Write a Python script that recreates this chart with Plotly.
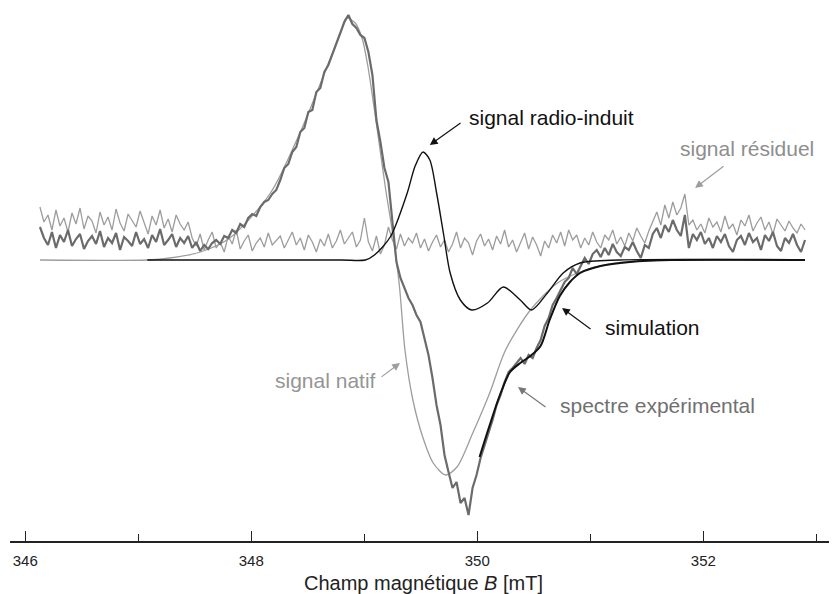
import numpy as np
import plotly.graph_objects as go

# ---------------- data (field in mT, signal amplitude in arbitrary units) -------------
# experimental spectrum (noisy), sampled evenly over the field sweep
B_start, B_stop = 346.13, 352.90
exp_A = [
    33, 22, 15, 28, 12, 25, 18, 30, 14, 21, 26, 11, 19, 24, 16, 29, 13, 22, 17, 27,
    10, 23, 19, 14, 28, 16, 21, 12, 25, 18, 31, 15, 20, 26, 13, 22, 17, 24,
    12, 18, 9, 15, 11, 17,
    20, 16, 24, 22, 30, 27, 36, 33, 42, 46, 44, 53, 58, 60, 66, 70,
    80, 92, 96, 108, 113, 128, 132, 148, 150, 168, 172, 188, 195, 206, 215, 228, 238,
    245, 236, 232, 225, 222, 208, 185, 140, 118, 92, 78, 38, -2, -18, -28, -38, -45,
    -55, -62, -78, -95, -118, -145, -165, -195,
    -212, -228, -222, -243, -238, -255, -228, -215, -198, -186, -172, -160, -145, -135,
    -122, -112, -108, -103, -98, -104, -95, -98, -88, -80,
    -66, -58, -45, -38, -30, -22, -18, -8, -14, -6, 2, -4, 6, 10, 3, 12, 5, 16, 8, 4,
    13, 10, 18, 9, 2, 15,
    12, 26, 32, 22, 35, 28, 40, 30, 24, 45, 12, 26, 20, 28, 16, 22, 12, 24, 18, 26,
    14, 8, 20, 24, 15, 27, 18, 22, 10, 25, 19, 28, 14, 9, 22, 17, 26, 15, 8, 20,
]

# residual signal (experimental - simulation), same sampling
res_A = [
    53, 38, 45, 30, 50, 34, 42, 28, 47, 36, 52, 31, 44, 39, 27, 48, 35, 43, 30, 51,
    37, 29, 46, 40, 33, 49, 38, 26, 44, 35, 50, 32, 41, 28, 45, 36, 30, 38,
    22, 14, 26, 10, 20, 28, 12, 18, 8, 24, 16, 30, 11, 19, 25, 9, 17, 22, 13, 27, 15, 20,
    24, 12, 20, 28, 15, 22, 10, 25, 18, 8, 21, 14, 26, 12, 19, 30, 16, 22, 28, 13,
    20, 42, 18, 9, 24, 6, 15, 33, 20, 11, 26, 14, 22, 17, 27, 12, 21, 9, 18, 25,
    13, 20, 8, 16, 28, 12, 22, 17, 5, 19, 26, 14, 21, 10, 24, 16, 30, 13, 20, 8,
    18, 27, 11, 23, 15, 4, 19, 12, 25, 17, 28, 14, 30, 20, 25, 12,
    22, 15, 28, 18, 12, 25, 20, 30, 16, 23, 14, 27, 19, 32, 24, 17, 29,
    38, 48, 35, 55, 42, 58, 45, 52, 66, 35,
    40, 30, 36, 27, 42, 33, 38, 28, 44, 31, 36, 25, 40, 34, 45, 29, 37, 43, 30, 38,
    26, 41, 35, 29, 39, 32, 27, 36, 30,
]

# native signal (smooth)
nat_B = [346.13, 347.08, 347.28, 347.55, 347.81, 348.17, 348.43, 348.67, 348.79, 348.84,
         348.92, 348.98, 349.03, 349.09, 349.14, 349.19, 349.25, 349.31, 349.36, 349.43,
         349.52, 349.61, 349.72, 349.82, 349.96, 350.11, 350.25, 350.47, 350.71, 350.91,
         351.17, 351.44, 351.97, 352.90]
nat_A = [0, 0, 2, 8, 22, 67, 127, 193, 227, 242,
         237, 222, 195, 150, 110, 70, 27, -25, -90, -140,
         -178, -203, -215, -207, -173, -133, -90, -50, -23, -12,
         -4, -1, 0, 0]

# radiation-induced signal (smooth)
rad_B = [347.08, 348.79, 349.01, 349.09, 349.23, 349.38, 349.45, 349.52, 349.58, 349.64,
         349.70, 349.76, 349.85, 349.95, 350.09, 350.23, 350.38, 350.48, 350.62, 350.76,
         350.91, 351.26, 352.90]
rad_A = [0, 0, 0, 5, 23, 67, 94, 108, 100, 67,
         27, -13, -40, -50, -43, -27, -40, -50, -33, -13,
         -3, 0, 0]

# simulation (visible part)
sim_B = [350.02, 350.11, 350.20, 350.29, 350.38, 350.47, 350.56, 350.64, 350.73, 350.82,
         350.91, 351.09, 351.35, 351.71, 352.90]
sim_A = [-197, -165, -135, -112, -103, -96, -86, -60, -36, -22,
         -13, -6, -2, 0, 0]

major_ticks = [346, 348, 350, 352]
tick_labels = ["346", "348", "350", "352"]

FONT = "Liberation Sans, Arial, sans-serif"
C_EXP = "#6b6b6b"
C_LIGHT = "#9d9d9d"
C_BLACK = "#111111"

exp_B = np.linspace(B_start, B_stop, len(exp_A))
res_B = np.linspace(B_start, B_stop, len(res_A))

fig = go.Figure()
fig.add_trace(go.Scatter(x=res_B, y=res_A, mode="lines",
                         line=dict(color=C_LIGHT, width=1.3)))
fig.add_trace(go.Scatter(x=nat_B, y=nat_A, mode="lines",
                         line=dict(color=C_LIGHT, width=1.3, shape="spline", smoothing=0.8)))
fig.add_trace(go.Scatter(x=exp_B, y=exp_A, mode="lines",
                         line=dict(color=C_EXP, width=2.2)))
fig.add_trace(go.Scatter(x=rad_B, y=rad_A, mode="lines",
                         line=dict(color=C_BLACK, width=1.4, shape="spline", smoothing=0.8)))
fig.add_trace(go.Scatter(x=sim_B, y=sim_A, mode="lines",
                         line=dict(color=C_BLACK, width=2.0, shape="spline", smoothing=0.8)))

def arrow(hx, hy, tx, ty, color):
    fig.add_annotation(x=hx, y=hy, ax=tx, ay=ty, xref="x", yref="y", axref="x", ayref="y",
                       text="", showarrow=True, arrowhead=2, arrowsize=1.3,
                       arrowwidth=1.2, arrowcolor=color)

def label(x, y, txt, color, anchor="left"):
    fig.add_annotation(x=x, y=y, xref="x", yref="y", text=txt, showarrow=False,
                       xanchor=anchor, yanchor="middle",
                       font=dict(family=FONT, size=21, color=color))

arrow(349.58, 115, 349.865, 138, C_BLACK)
label(349.909, 143, "signal radio-induit", C_BLACK)

arrow(351.927, 72, 352.192, 95, C_LIGHT)
label(351.776, 112, "signal résiduel", "#8e8e8e")

arrow(350.750, -48, 351.015, -70, C_BLACK)
label(351.112, -67, "simulation", C_BLACK)

arrow(350.360, -127, 350.617, -148, "#777777")
label(350.714, -145, "spectre expérimental", "#707070")

arrow(349.316, -103, 349.139, -118, C_LIGHT)
label(349.124, -120, "signal natif", "#959595", anchor="right")

fig.add_annotation(x=0.5, y=-0.079, xref="paper", yref="paper",
                   text="Champ magnétique <i>B</i> [mT]", showarrow=False,
                   xanchor="center", yanchor="middle",
                   font=dict(family=FONT, size=20, color="#222222"))

# page body adds an 8 px offset, so the figure is sized to fill the rest of the window
fig.update_layout(
    width=829, height=586,
    margin=dict(l=2, r=0, t=0, b=53),
    paper_bgcolor="white", plot_bgcolor="white",
    showlegend=False,
    xaxis=dict(range=[345.865, 353.183], showgrid=False, zeroline=False,
               showline=True, linecolor="#222222", linewidth=1.5,
               ticks="inside", ticklen=10, tickwidth=1, tickcolor="#222222",
               tickvals=major_ticks, ticktext=tick_labels,
               ticklabelstandoff=5,
               tickfont=dict(family=FONT, size=15, color="#222222"),
               minor=dict(ticks="inside", ticklen=7, tickwidth=1, tickcolor="#222222",
                          dtick=1, tick0=346, showgrid=False)),
    yaxis=dict(range=[-281, 252], visible=False, showgrid=False, zeroline=False),
)

fig.write_html("out.html")
